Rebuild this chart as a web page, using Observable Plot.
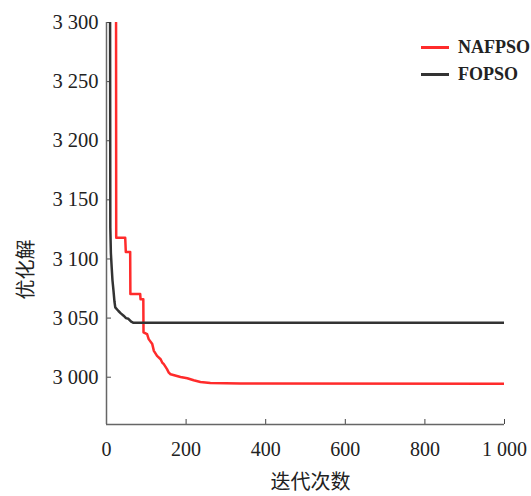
<!DOCTYPE html>
<html>
<head>
<meta charset="utf-8">
<script src="https://cdn.jsdelivr.net/npm/d3@7"></script>
<script src="https://cdn.jsdelivr.net/npm/@observablehq/plot@0.6"></script>
<style>
  body { margin: 0; background: #fff; }
  #wrap { position: relative; width: 531px; height: 496px; }
  .legend { position: absolute; left: 421px; top: 35px; font-family: "Liberation Serif", serif; font-weight: bold; font-size: 18px; color: #222; }
  .legend .row { display: flex; align-items: center; height: 24px; margin-bottom: 3px; }
  .legend .sw { width: 28px; height: 3px; margin-right: 9px; }
</style>
</head>
<body>
<div id="wrap"></div>
<script>
// NAFPSO series (iteration, best value)
const nafIter = [24, 24.4, 47, 48.5, 59.5, 60, 84.7, 85.5, 92.5, 93, 102, 106, 115, 119, 127, 136, 140, 144, 152, 156.5, 161, 186, 203, 219, 236, 261, 337, 1000];
const nafVal  = [3300, 3118, 3118, 3106, 3106, 3070.3, 3070.3, 3066, 3066, 3038, 3036.4, 3032.2, 3028, 3022.3, 3018, 3015.2, 3012.4, 3011, 3006.8, 3003.9, 3002.5, 3000.2, 2999.1, 2997.4, 2996, 2995.2, 2994.6, 2994.4];
// FOPSO series
const foIter = [9, 9.6, 11, 13, 15, 17.6, 20, 22, 30, 36, 43, 49, 55, 62, 68, 1000];
const foVal  = [3300, 3126.5, 3105, 3093, 3082, 3073, 3064, 3059, 3056, 3054, 3052, 3050, 3049.4, 3047, 3046, 3046];

const seriesNames = ["NAFPSO", "FOPSO"];
const seriesColors = ["#ff2b2b", "#333333"];
const xTicks = [0, 200, 400, 600, 800, 1000];
const yTicks = [3000, 3050, 3100, 3150, 3200, 3250, 3300];
const xLabel = "迭代次数";
const yLabel = "优化解";

const fmt = d => d3.format(",")(d).replace(/,/g, " ");
const naf = nafIter.map((x, i) => ({x, y: nafVal[i]}));
const fo = foIter.map((x, i) => ({x, y: foVal[i]}));

const chart = Plot.plot({
  width: 531,
  height: 496,
  marginLeft: 106,
  marginRight: 27,
  marginTop: 22,
  marginBottom: 72,
  x: {domain: [0, 1000]},
  y: {domain: [2960, 3300]},
  style: {fontFamily: "'Liberation Serif', serif", fontSize: "20px", color: "#222", background: "#fff"},
  marks: [
    Plot.axisX(xTicks, {tickSize: -5, tickPadding: 22, tickFormat: fmt, fontSize: 20, label: null, stroke: "#444"}),
    Plot.axisY(yTicks, {tickSize: -5, tickPadding: 13, tickFormat: fmt, fontSize: 20.5, label: null, stroke: "#444"}),
    Plot.ruleX([0], {stroke: "#666", strokeWidth: 1.5}),
    Plot.ruleY([2960], {stroke: "#666", strokeWidth: 1.5}),
    Plot.line(naf, {x: "x", y: "y", stroke: seriesColors[0], strokeWidth: 2.5, clip: true}),
    Plot.line(fo, {x: "x", y: "y", stroke: seriesColors[1], strokeWidth: 2.5, clip: true}),
    Plot.text([xLabel], {text: d => d, frameAnchor: "bottom", dy: 64, dx: 5, fontFamily: "'Noto Sans CJK SC'", fontSize: 20, fill: "#222"}),
    Plot.text([yLabel], {text: d => d, frameAnchor: "left", rotate: -90, dx: -80, dy: 76, fontFamily: "'Noto Sans CJK SC'", fontSize: 20, fill: "#222"})
  ]
});

const wrap = document.getElementById("wrap");
wrap.appendChild(chart);
const legend = document.createElement("div");
legend.className = "legend";
seriesNames.forEach((name, i) => {
  const row = document.createElement("div");
  row.className = "row";
  const sw = document.createElement("div");
  sw.className = "sw";
  sw.style.background = seriesColors[i];
  const t = document.createElement("span");
  t.textContent = name;
  row.appendChild(sw);
  row.appendChild(t);
  legend.appendChild(row);
});
wrap.appendChild(legend);
</script>
</body>
</html>
